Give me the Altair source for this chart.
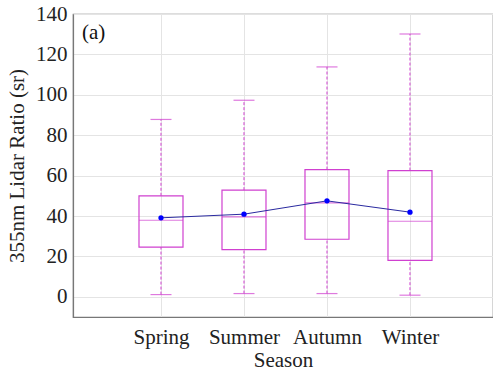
import altair as alt
import pandas as pd

seasons = ["Spring", "Summer", "Autumn", "Winter"]
positions = [1, 2, 3, 4]
whisker_low = [1.1, 1.6, 1.6, 0.8]
q1 = [24.6, 23.4, 28.5, 18.0]
median = [37.9, 39.6, 46.5, 37.4]
q3 = [50.0, 52.8, 63.0, 62.5]
whisker_high = [87.8, 97.3, 113.8, 130.1]
mean = [39.1, 40.9, 47.5, 41.9]

df = pd.DataFrame({
    "season": seasons, "pos": positions, "lo": whisker_low, "q1": q1,
    "med": median, "q3": q3, "hi": whisker_high, "mean": mean,
})

MAG = "#d040d0"
FONT = "Liberation Serif"

xscale = alt.Scale(domain=[0, 4.94], nice=False, zero=False)
yscale = alt.Scale(domain=[-10, 140], nice=False, zero=False)

label_expr = "datum.value == 1 ? 'Spring' : datum.value == 2 ? 'Summer' : datum.value == 3 ? 'Autumn' : datum.value == 4 ? 'Winter' : ''"

xax = alt.X("pos:Q", scale=xscale, title="Season",
            axis=alt.Axis(values=positions, labelExpr=label_expr, ticks=False,
                          labelPadding=9, titlePadding=2))
yax = alt.Y("q1:Q", scale=yscale, title="355nm Lidar Ratio (sr)",
            axis=alt.Axis(values=[0, 20, 40, 60, 80, 100, 120, 140], ticks=False,
                          labelPadding=6, titlePadding=8))

base = alt.Chart(df)

box = base.mark_bar(size=44, fill="white", fillOpacity=0, stroke=MAG, strokeWidth=1.2).encode(
    x=xax, y=yax, y2="q3:Q")

whisk_lo = base.mark_rule(color=MAG, strokeDash=[3, 2], strokeWidth=1).encode(
    x="pos:Q", y="lo:Q", y2="q1:Q")
whisk_hi = base.mark_rule(color=MAG, strokeDash=[3, 2], strokeWidth=1).encode(
    x="pos:Q", y="q3:Q", y2="hi:Q")

cap_lo = base.mark_tick(orient="horizontal", size=21, thickness=1.2, color=MAG).encode(
    x="pos:Q", y="lo:Q")
cap_hi = base.mark_tick(orient="horizontal", size=21, thickness=1.2, color=MAG).encode(
    x="pos:Q", y="hi:Q")
med = base.mark_tick(orient="horizontal", size=44, thickness=1.2, color=MAG).encode(
    x="pos:Q", y="med:Q")

mean_line = base.mark_line(color="#2a2aa0", strokeWidth=1).encode(
    x="pos:Q", y="mean:Q")
mean_pts = base.mark_point(filled=True, color="#0000ff", size=28, opacity=1).encode(
    x="pos:Q", y="mean:Q")

label = alt.Chart(pd.DataFrame({"t": ["(a)"]})).mark_text(
    align="left", baseline="middle", font=FONT, fontSize=21, color="#111"
).encode(x=alt.value(9), y=alt.value(19), text="t:N")

chart = alt.layer(box, whisk_lo, whisk_hi, cap_lo, cap_hi, med, mean_line, mean_pts, label).properties(
    width=420, height=303,
    background="white",
    autosize=alt.AutoSizeParams(type="none"),
    padding={"left": 73, "top": 14, "right": 0, "bottom": 60},
).configure_view(
    stroke="#777", strokeWidth=1.2
).configure_axis(
    labelFont=FONT, titleFont=FONT, labelFontSize=21, titleFontSize=21,
    labelColor="#222", titleColor="#222", titleFontWeight="normal",
    gridColor="#e4e4e4", gridWidth=1, domainColor="#777", domainWidth=1.2,
)

chart.save("out.html", embed_options={"renderer": "svg", "actions": False})
